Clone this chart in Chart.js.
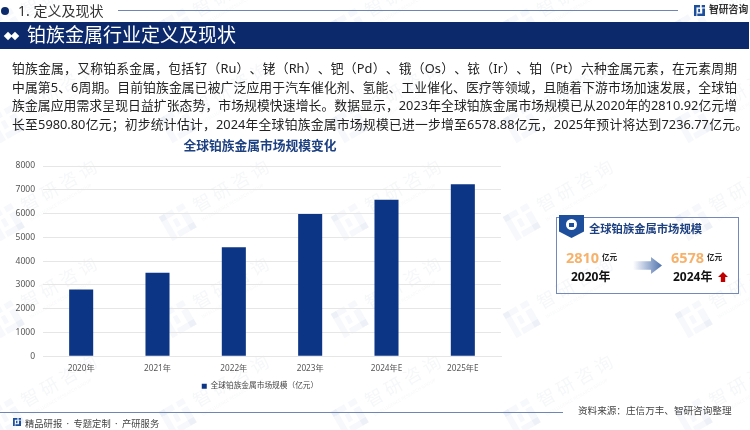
<!DOCTYPE html>
<html lang="zh-CN">
<head>
<meta charset="utf-8">
<script src="https://cdn.jsdelivr.net/npm/chart.js@4/dist/chart.umd.min.js"></script>
<style>
  html, body { margin: 0; padding: 0; background: #fff; }
  body { width: 750px; height: 430px; position: relative; overflow: hidden; font-family: "Noto Sans", "Noto Sans CJK SC", sans-serif; text-spacing-trim: space-all; }
  .abs { position: absolute; white-space: nowrap; line-height: 1; }
  #wm { left: 0; top: 0; }
  .rule { position: absolute; height: 1px; background: #6f86b3; }
  #banner { left: 0; top: 22px; width: 749px; height: 27px; background: #0c2a6b; }
  #para { left: 12px; top: 59px; font-size: 12.8px; line-height: 18.7px; color: #222; }
  #para div { overflow: hidden; width: 725px; text-align: justify; text-align-last: justify; white-space: normal; height: 18.7px; }
  #para div.last { width: 736px; }
  #box { left: 556px; top: 217px; width: 181px; height: 75px; border: 1px solid #7489ba; }
  #chartWrap { position: absolute; left: 0; top: 130px; width: 520px; height: 270px; }
  .big { font-size: 14.5px; font-weight: 700; color: #f6b26b; font-family: "Open Sans", sans-serif; }
  .unit { font-size: 7.6px; font-weight: 700; color: #222; }
  .year { font-size: 12px; font-weight: 700; color: #111; }
</style>
</head>
<body>
<canvas id="wm" class="abs" width="750" height="430"></canvas>

<!-- header -->
<div class="abs" style="left:1px;top:7px;width:8px;height:8px;border-radius:50%;background:#0c2a6b"></div>
<div class="abs" style="left:18px;top:4px;font-size:14px;color:#333">1. 定义及现状</div>
<div class="rule" style="left:118px;top:10px;width:560px"></div>
<div class="abs" style="left:709px;top:5px;font-size:9.8px;font-weight:700;color:#333">智研咨询</div>
<div class="abs" id="banner"></div>
<div class="abs" style="left:5px;top:33px;width:6px;height:6px;background:#fff;transform:rotate(45deg)"></div>
<div class="abs" style="left:12px;top:33px;width:6px;height:6px;background:#fff;transform:rotate(45deg)"></div>
<div class="abs" style="left:27px;top:26px;font-size:19px;color:#fff">铂族金属行业定义及现状</div>

<!-- paragraph -->
<div class="abs" id="para">
  <div>铂族金属，又称铂系金属，包括钌（Ru）、铑（Rh）、钯（Pd）、锇（Os）、铱（Ir）、铂（Pt）六种金属元素，在元素周期表</div>
  <div>中属第5、6周期。目前铂族金属已被广泛应用于汽车催化剂、氢能、工业催化、医疗等领域，且随着下游市场加速发展，全球铂</div>
  <div>族金属应用需求呈现日益扩张态势，市场规模快速增长。数据显示，2023年全球铂族金属市场规模已从2020年的2810.92亿元增</div>
  <div class="last">长至5980.80亿元；初步统计估计，2024年全球铂族金属市场规模已进一步增至6578.88亿元，2025年预计将达到7236.77亿元。</div>
</div>

<!-- chart -->
<div id="chartWrap"><canvas id="marketChart" width="520" height="270"></canvas></div>

<!-- summary box -->
<div class="abs" id="box"></div>
<div class="abs" style="left:559px;top:215px;width:25px;height:23px;background:#1d4f9c;clip-path:polygon(0 0,100% 0,100% 72%,50% 100%,0 72%)"></div>
<div class="abs" style="left:566px;top:219px;width:11px;height:11px;border-radius:50%;background:#fff"></div>
<div class="abs" style="left:569px;top:223px;width:5px;height:4px;background:#1d4f9c"></div>
<div class="abs" style="left:589px;top:223px;font-size:11.3px;font-weight:700;color:#1d4080">全球铂族金属市场规模</div>
<div class="abs big" style="left:566px;top:251px">2810</div>
<div class="abs unit" style="left:602px;top:254px">亿元</div>
<div class="abs year" style="left:571px;top:271px">2020年</div>
<div class="abs" style="left:633px;top:257px;width:29px;height:17px;background:linear-gradient(90deg,#fff,#4f72ae);clip-path:polygon(0 25%,62% 25%,62% 0,100% 50%,62% 100%,62% 75%,0 75%)"></div>
<div class="abs big" style="left:671px;top:251px">6578</div>
<div class="abs unit" style="left:707px;top:254px">亿元</div>
<div class="abs year" style="left:673px;top:271px">2024年</div>
<div class="abs" style="left:718px;top:272px;width:10px;height:10px;background:#c00000;clip-path:polygon(50% 0,100% 50%,72% 50%,72% 100%,28% 100%,28% 50%,0 50%)"></div>

<!-- footer -->
<div class="rule" style="left:0;top:412px;width:563px"></div>
<div class="abs" style="left:25px;top:419px;font-size:9.3px;word-spacing:2px;color:#444">精品研报 · 专题定制 · 产研服务</div>
<div class="abs" style="left:578px;top:406px;font-size:9.6px;color:#444">资料来源：庄信万丰、智研咨询整理</div>

<script>
var categories = ['2020年', '2021年', '2022年', '2023年', '2024年E', '2025年E'];
var marketValues = [2810.92, 3510, 4580, 5980.80, 6578.88, 7236.77];
var yTicks = [0, 1000, 2000, 3000, 4000, 5000, 6000, 7000, 8000];
var seriesName = '全球铂族金属市场规模（亿元）';
var chartTitle = '全球铂族金属市场规模变化';
var wmCols = [8, 180, 352, 524, 696];
var wmRows = [35, 132, 230, 327, 425];

// Watermark and small logos
(function () {
    var ctx = document.getElementById('wm').getContext('2d');

    function logo(x, y, s) {
        ctx.fillRect(x, y, s * 0.55, s * 0.22);
        ctx.fillRect(x, y, s * 0.22, s);
        ctx.fillRect(x + s * 0.38, y + s * 0.35, s * 0.17, s * 0.3);
        ctx.fillRect(x + s * 0.7, y, s * 0.3, s * 0.22);
        ctx.fillRect(x + s * 0.75, y + s * 0.32, s * 0.25, s * 0.68);
        ctx.fillRect(x + s * 0.3, y + s * 0.78, s * 0.7, s * 0.22);
    }

    wmCols.forEach(function (cx) {
        wmRows.forEach(function (cy) {
            ctx.save();
            ctx.translate(cx, cy);
            ctx.rotate(-Math.PI / 6);
            ctx.fillStyle = 'rgba(29,79,156,0.04)';
            logo(-12, -22, 28);
            ctx.fillStyle = 'rgba(70,90,130,0.05)';
            ctx.font = '18px "Noto Sans CJK SC"';
            ctx.letterSpacing = '4px';
            ctx.fillText('智研咨询', 24, -6);
            ctx.font = '4.5px "Noto Sans"';
            ctx.letterSpacing = '0px';
            ctx.fillText('INTELLIGENCE RESEARCH GROUP', 24, 4);
            ctx.restore();
        });
    });

    ctx.fillStyle = '#1d4f9c';
    logo(694, 5, 11);
    logo(13, 418, 8);
})();

// Market size bar chart
(function () {
    var fam = '"Noto Sans", "Noto Sans CJK SC"';

    // y tick labels get clipped to the axis box, so let the box reach the canvas edge
    var widenYAxis = {
        id: 'widenYAxis',
        afterLayout: function (chart) { chart.scales.y.left = 0; }
    };

    new Chart(document.getElementById('marketChart'), {
        type: 'bar',
        data: {
            labels: categories,
            datasets: [{
                label: seriesName,
                data: marketValues,
                backgroundColor: '#0d3585',
                barPercentage: 0.315,
                categoryPercentage: 1
            }]
        },
        options: {
            responsive: false,
            animation: false,
            layout: { padding: { left: 19, right: 19, top: 0, bottom: 0 } },
            plugins: {
                title: {
                    display: true,
                    text: chartTitle,
                    color: '#1d4080',
                    font: { size: 12.75, weight: 'bold', family: fam, lineHeight: 1.2 },
                    padding: { top: 9, bottom: 11.7 }
                },
                legend: {
                    position: 'bottom',
                    labels: {
                        boxWidth: 5,
                        boxHeight: 5,
                        padding: 8,
                        color: '#444',
                        font: { size: 7.7, family: fam }
                    }
                },
                tooltip: { enabled: false }
            },
            scales: {
                x: {
                    afterFit: function (axis) { axis.height = 18; },
                    grid: { display: false, drawTicks: false },
                    border: { color: '#e6e6e6' },
                    ticks: { color: '#555', padding: 7, maxRotation: 0, font: { size: 8.2, family: fam } }
                },
                y: {
                    min: 0,
                    max: 8000,
                    afterFit: function (axis) { axis.width = 24; },
                    afterBuildTicks: function (axis) {
                        axis.ticks = yTicks.map(function (v) { return { value: v }; });
                    },
                    grid: { color: '#e6e6e6', drawTicks: false },
                    border: { display: false },
                    ticks: {
                        color: '#555',
                        padding: 8,
                        font: { size: 8.5, family: fam },
                        callback: function (value) { return String(value); }
                    }
                }
            }
        },
        plugins: [widenYAxis]
    });
})();
</script>
</body>
</html>
